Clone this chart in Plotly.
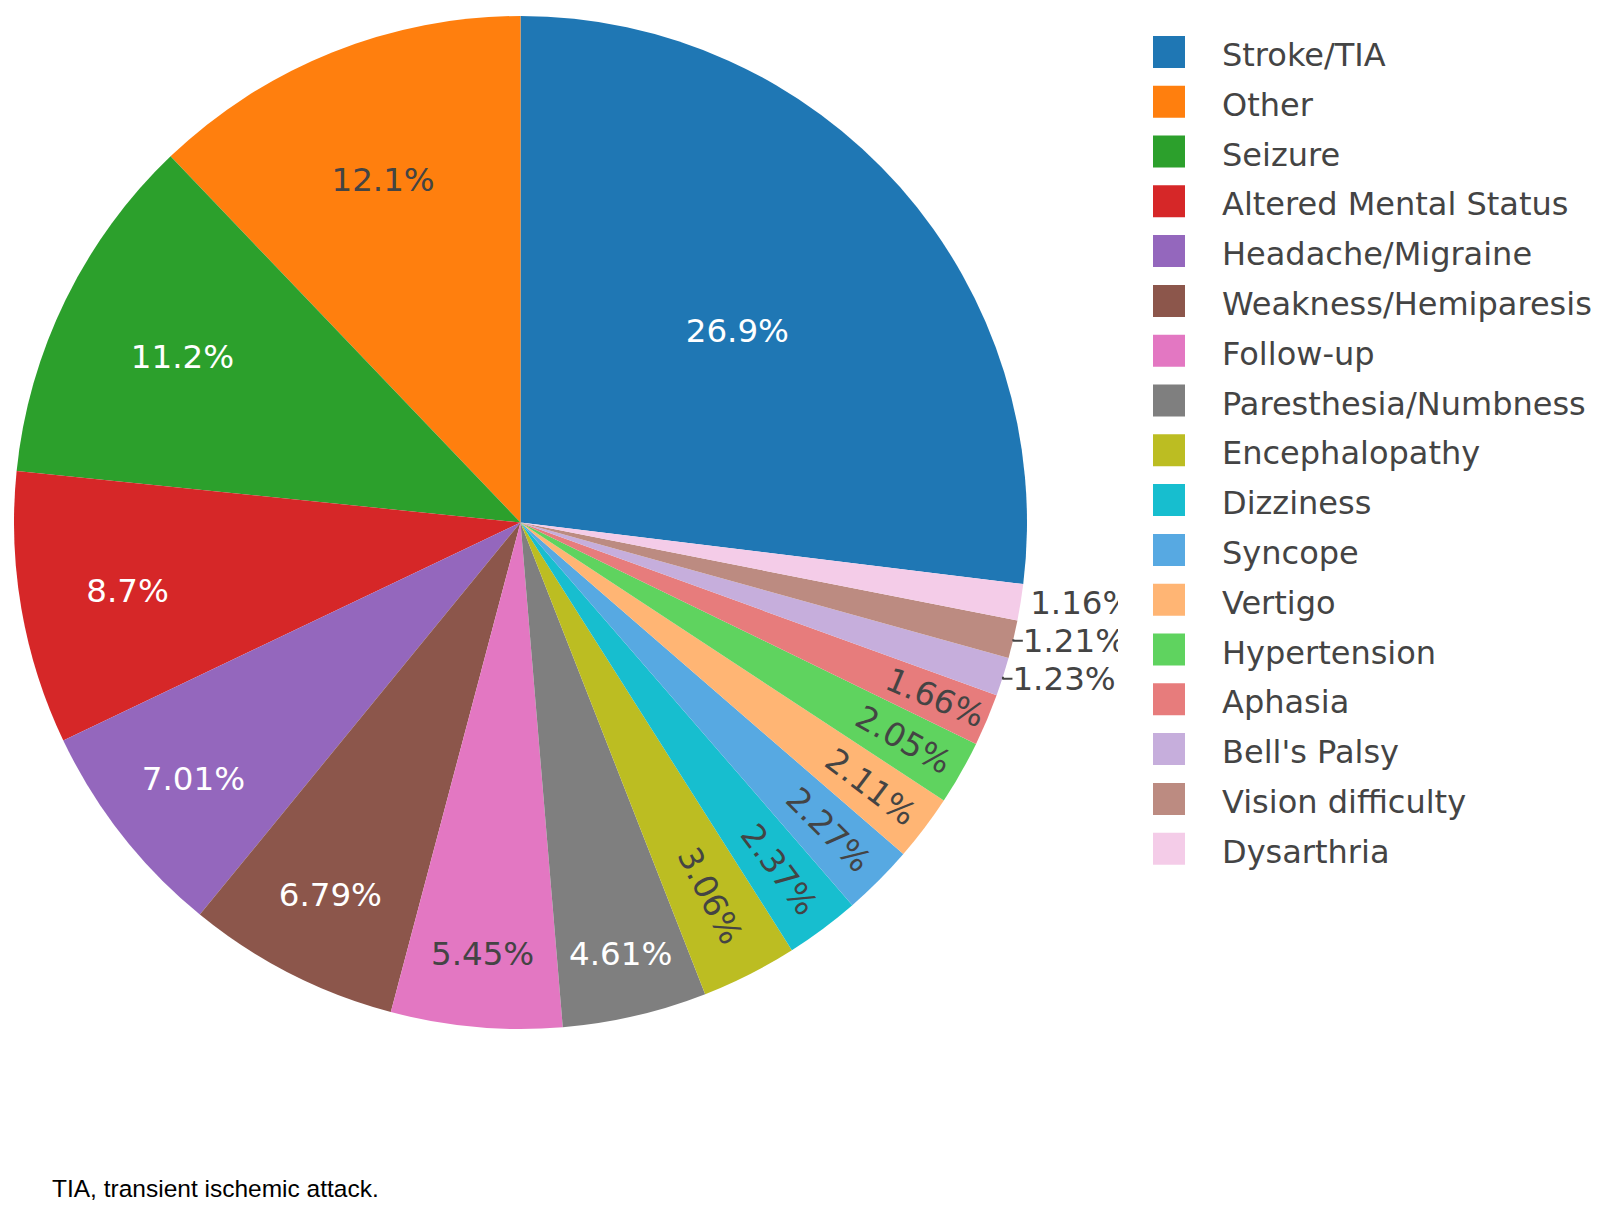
import plotly.graph_objects as go

labels = ["Stroke/TIA", "Other", "Seizure", "Altered Mental Status", "Headache/Migraine",
          "Weakness/Hemiparesis", "Follow-up", "Paresthesia/Numbness", "Encephalopathy",
          "Dizziness", "Syncope", "Vertigo", "Hypertension", "Aphasia", "Bell's Palsy",
          "Vision difficulty", "Dysarthria"]
values = [26.94, 12.14, 11.24, 8.70, 7.01, 6.79, 5.45, 4.61, 3.06, 2.37, 2.27, 2.11,
          2.05, 1.66, 1.23, 1.21, 1.16]

W, H = 1600, 1224
cx, cy, r = 512.5, 514.5, 506.5

legend_labels = ["<span style='font-size:32px'>%s</span>" % s for s in labels]

fig = go.Figure(go.Pie(
    labels=legend_labels,
    values=values,
    textinfo="percent",
    textfont=dict(family="DejaVu Sans", size=32.5),
    domain=dict(x=[(cx - r) / W, (cx + r) / W], y=[1 - (cy + r) / H, 1 - (cy - r) / H]),
))

fig.update_layout(
    template="none",
    width=W, height=H,
    margin=dict(l=0, r=0, t=0, b=0),
    paper_bgcolor="white",
    font=dict(family="DejaVu Sans", size=32, color="#444"),
    legend=dict(x=1110 / W, y=1 - 14 / H, xanchor="left", yanchor="top",
                bgcolor="white", font=dict(size=36), itemwidth=94),
    annotations=[dict(text="TIA, transient ischemic attack.", x=42 / W, y=1 - 1180 / H,
                      xref="paper", yref="paper", xanchor="left", yanchor="middle",
                      showarrow=False,
                      font=dict(family="Liberation Sans, Arial", size=24.5, color="black"))],
)

post = """
document.querySelectorAll('g.traces').forEach(function(g){
  var t = g.querySelector('text.legendtext');
  var p = g.querySelector('path.legendpie');
  if(!t || !p) return;
  var tx = parseFloat(t.getAttribute('x'));
  p.setAttribute('d','M16,16H-16V-16H16Z');
  if(!isNaN(tx)) p.setAttribute('transform','translate(' + (tx - 53) + ',0)');
});
"""

fig.write_html("out.html", post_script=post)
